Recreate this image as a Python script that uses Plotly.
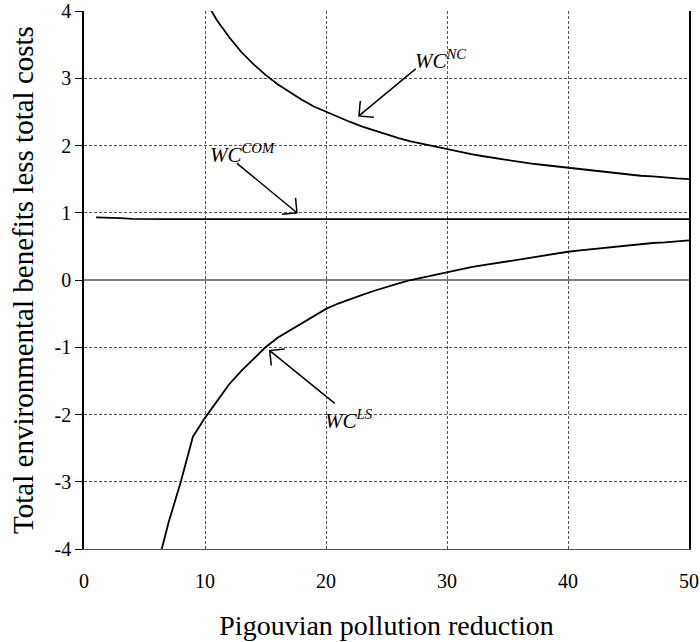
import math
import plotly.graph_objects as go

# ---- data ----
x_nc = list(range(10, 51))
wc_nc = [4.16, 3.86, 3.61, 3.39, 3.21, 3.05, 2.91, 2.79, 2.68, 2.58,
         2.50, 2.42, 2.35, 2.28, 2.22, 2.16, 2.11, 2.06, 2.02, 1.98,
         1.94, 1.90, 1.87, 1.84, 1.81, 1.78, 1.76, 1.73, 1.71, 1.69,
         1.67, 1.64, 1.62, 1.61, 1.59, 1.57, 1.55, 1.54, 1.52, 1.51, 1.50]

x_com = list(range(1, 51))
wc_com = [0.93, 0.93, 0.92, 0.91] + [0.905] * 46

x_ls = list(range(6, 51))
wc_ls = [-4.30, -3.60, -3.00, -2.33, -2.05, -1.80, -1.55, -1.35, -1.17, -1.00,
         -0.86, -0.75, -0.64, -0.54, -0.43, -0.35, -0.28, -0.22, -0.16, -0.10,
         -0.05, 0.00, 0.04, 0.08, 0.12, 0.16, 0.19, 0.22, 0.25, 0.28,
         0.31, 0.34, 0.37, 0.39, 0.42, 0.44, 0.46, 0.48, 0.50, 0.52,
         0.53, 0.55, 0.56, 0.58, 0.59]

x_ticks = [0, 10, 20, 30, 40, 50]
y_ticks = [-4, -3, -2, -1, 0, 1, 2, 3, 4]

# annotation arrows: (tail, head) in data units, labels
arrows = [((27.41, 3.14), (22.72, 2.44)),
          ((12.64, 1.735), (17.60, 1.00)),
          ((20.72, -1.834), (15.35, -1.05))]
labels = [("<i>WC<sup>NC</sup></i>", 27.20, 3.286),
          ("<i>WC<sup>COM</sup></i>", 10.25, 1.874),
          ("<i>WC<sup>LS</sup></i>", 19.75, -2.067)]

FONT = "Liberation Serif"
W, H = 700, 642
ML, MR, MT, MB = 84, 11, 11, 93
PX_X = (W - ML - MR) / 50.0
PX_Y = (H - MT - MB) / 8.0


def arrow_path(tail, head, arm=15.0):
    tx, ty = tail[0] * PX_X, -tail[1] * PX_Y
    hx, hy = head[0] * PX_X, -head[1] * PX_Y
    dx, dy = tx - hx, ty - hy
    n = math.hypot(dx, dy)
    ux, uy = dx / n, dy / n
    pts = []
    for a in (math.pi / 4, -math.pi / 4):
        rx = ux * math.cos(a) - uy * math.sin(a)
        ry = ux * math.sin(a) + uy * math.cos(a)
        pts.append(((hx + arm * rx) / PX_X, -(hy + arm * ry) / PX_Y))
    p = f"M{tail[0]},{tail[1]} L{head[0]},{head[1]} "
    p += f"M{pts[0][0]},{pts[0][1]} L{head[0]},{head[1]} L{pts[1][0]},{pts[1][1]}"
    return p


fig = go.Figure()
line = dict(color="black", width=1.8)
fig.add_trace(go.Scatter(x=x_nc, y=wc_nc, mode="lines", line=line, name="WC NC"))
fig.add_trace(go.Scatter(x=x_com, y=wc_com, mode="lines", line=line, name="WC COM"))
fig.add_trace(go.Scatter(x=x_ls, y=wc_ls, mode="lines", line=line, name="WC LS"))

shapes = [dict(type="path", path=arrow_path(t, h), xref="x", yref="y",
               line=dict(color="black", width=1.5)) for t, h in arrows]

annotations = [dict(text=t, x=x, y=y, xref="x", yref="y", showarrow=False,
                    xanchor="left", yanchor="middle",
                    font=dict(family=FONT, size=21, color="black"))
               for t, x, y in labels]

fig.update_layout(
    width=W, height=H,
    margin=dict(l=ML, r=MR, t=MT, b=MB, autoexpand=False),
    paper_bgcolor="white", plot_bgcolor="white",
    showlegend=False,
    font=dict(family=FONT, color="black"),
    shapes=shapes,
    annotations=annotations,
    xaxis=dict(range=[0, 50], tickvals=x_ticks, ticktext=[str(v) for v in x_ticks],
               showgrid=True, gridcolor="#555", gridwidth=1, griddash="3px,2px",
               zeroline=False, showline=True, linecolor="#555", linewidth=1,
               ticks="", ticklabelstandoff=14, automargin=False,
               tickfont=dict(family=FONT, size=20, color="black"),
               title=dict(text="Pigouvian pollution reduction", standoff=24,
                          font=dict(family=FONT, size=28, color="black"))),
    yaxis=dict(range=[-4, 4], tickvals=y_ticks, ticktext=[str(v) for v in y_ticks],
               showgrid=True, gridcolor="#555", gridwidth=1, griddash="3px,2px",
               zeroline=True, zerolinecolor="#808080", zerolinewidth=2,
               showline=True, linecolor="black", linewidth=1.5, mirror=True,
               ticks="outside", ticklen=7, tickwidth=1, tickcolor="black",
               automargin=False,
               tickfont=dict(family=FONT, size=20, color="black"),
               title=dict(text="Total environmental benefits less total costs", standoff=12,
                          font=dict(family=FONT, size=29, color="black"))),
)

fig.write_html("out.html")
